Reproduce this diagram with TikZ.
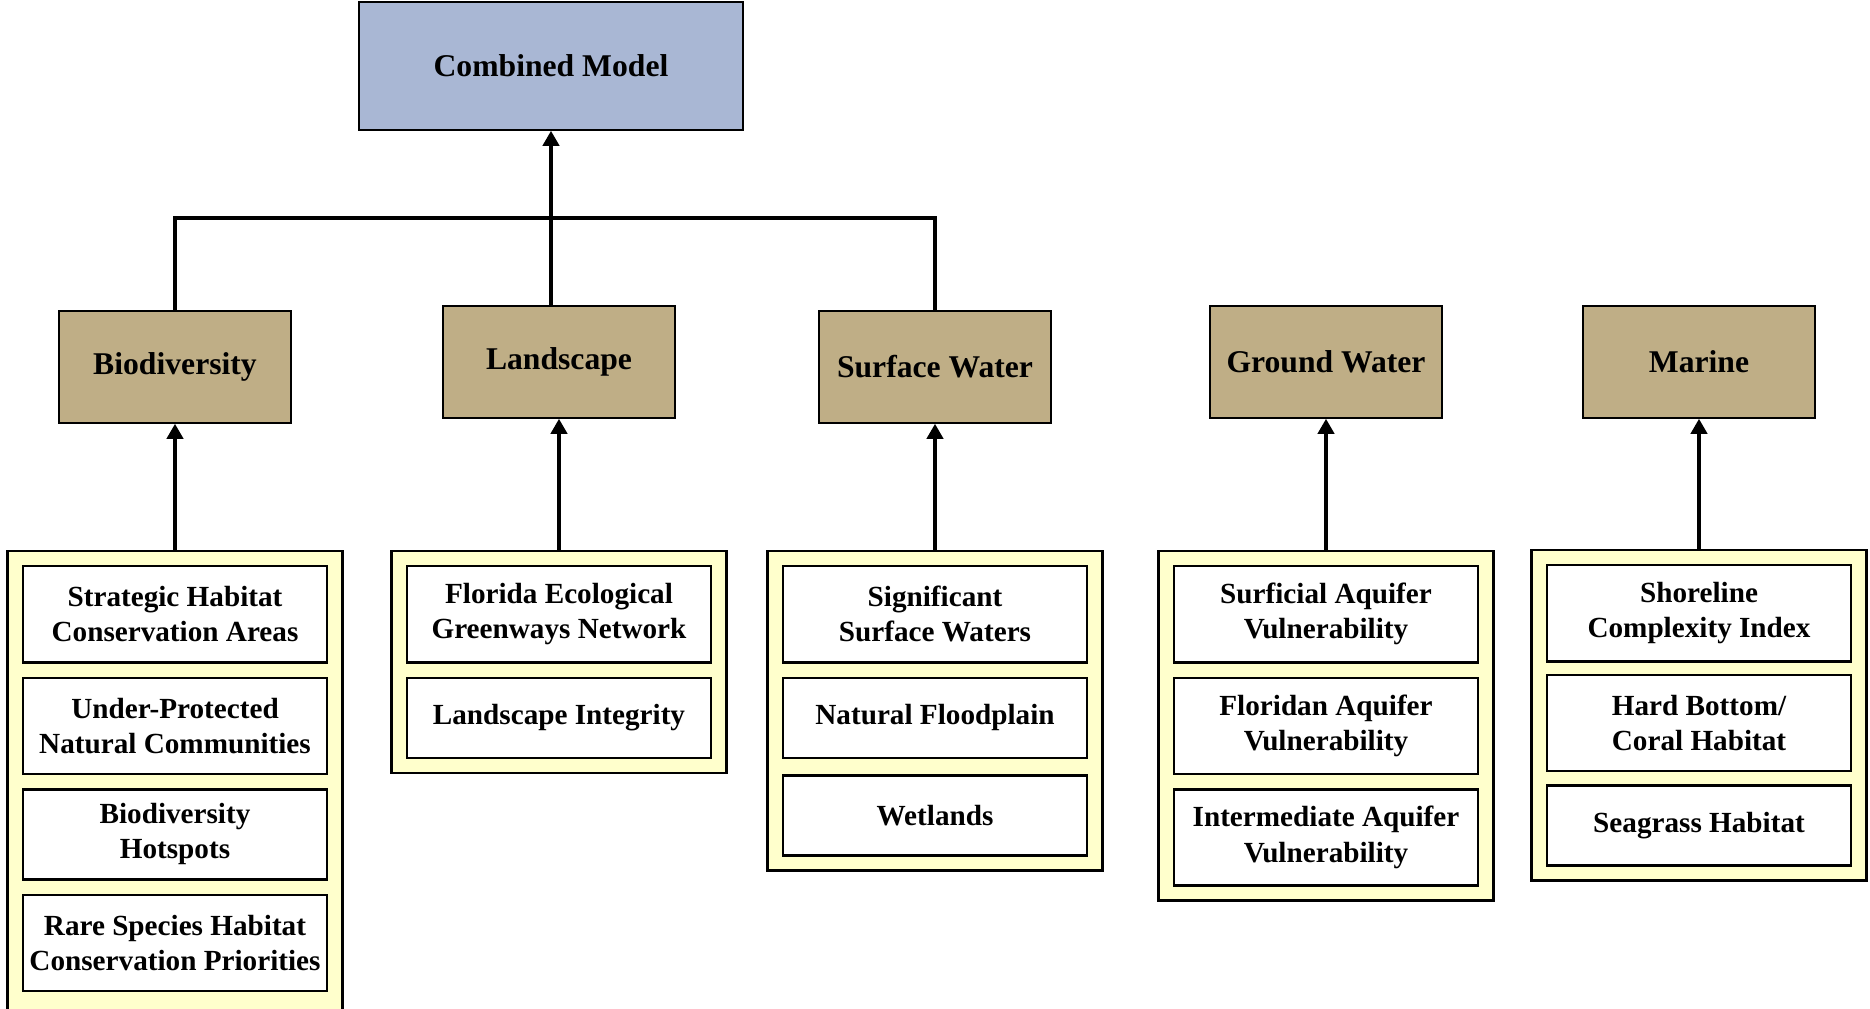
\documentclass[tikz,border=0pt]{standalone}
\usepackage{fontspec}
\setmainfont{Liberation Serif}
\usepackage{xcolor}
\usetikzlibrary{arrows.meta, positioning, fit, backgrounds}

\definecolor{modelblue}{HTML}{A9B7D4}
\definecolor{layertan}{HTML}{BFAE86}
\definecolor{groupyellow}{HTML}{FFFFCC}

\begin{document}
\begin{tikzpicture}[x=0.01cm, y=-0.01cm, node distance=0.13cm]
\tikzstyle{model} = [rectangle, minimum width=3.84cm, minimum height=1.28cm, text centered, draw=black, fill=modelblue, font=\fontsize{9}{11}\selectfont\bfseries]
\tikzstyle{layer} = [rectangle, minimum width=2.32cm, minimum height=1.12cm, text centered, draw=black, fill=layertan, font=\fontsize{9}{11}\selectfont\bfseries]
\tikzstyle{dataset} = [rectangle, minimum width=3.04cm, minimum height=0.96cm, inner sep=1pt, align=center, draw=black, line width=0.7pt, fill=white, font=\fontsize{8.3}{10}\selectfont\bfseries]
\tikzstyle{single} = [minimum height=0.8cm]
\tikzstyle{group} = [rectangle, draw=black, line width=0.7pt, fill=groupyellow, inner sep=0.14cm]
\tikzstyle{link} = [line width=1.3pt]
\tikzstyle{arrow} = [line width=1.3pt, -{Triangle[length=0.15cm, width=0.16cm]}]

\useasboundingbox (0,0) rectangle (1870,1008);

% top model
\node (comb) [model] at (551,66) {Combined Model};

% layers
\node (bio) [layer] at (175,367) {Biodiversity};
\node (land) [layer] at (559,362) {Landscape};
\node (surf) [layer] at (935,367) {Surface Water};
\node (ground) [layer] at (1326,362) {Ground Water};
\node (marine) [layer] at (1699,362) {Marine};

% data sets
\node (bio1) [dataset, anchor=north] at (175,565) {Strategic Habitat\\Conservation Areas};
\node (bio2) [dataset, below=of bio1] {Under-Protected\\Natural Communities};
\node (bio3) [dataset, below=of bio2, minimum height=0.9cm] {Biodiversity\\Hotspots};
\node (bio4) [dataset, below=of bio3] {Rare Species Habitat\\Conservation Priorities};
\coordinate (biobase) at (175,1012);

\node (land1) [dataset, anchor=north] at (559,565) {Florida Ecological\\Greenways Network};
\node (land2) [dataset, single, below=of land1] {Landscape Integrity};

\node (surf1) [dataset, anchor=north] at (935,565) {Significant\\Surface Waters};
\node (surf2) [dataset, single, below=of surf1] {Natural Floodplain};
\node (surf3) [dataset, single, below=0.15cm of surf2] {Wetlands};

\node (ground1) [dataset, anchor=north] at (1326,565) {Surficial Aquifer\\Vulnerability};
\node (ground2) [dataset, below=of ground1] {Floridan Aquifer\\Vulnerability};
\node (ground3) [dataset, below=of ground2] {Intermediate Aquifer\\Vulnerability};

\node (marine1) [dataset, anchor=north] at (1699,564) {Shoreline\\Complexity Index};
\node (marine2) [dataset, below=0.11cm of marine1] {Hard Bottom/\\Coral Habitat};
\node (marine3) [dataset, single, below=0.12cm of marine2] {Seagrass Habitat};

\begin{scope}[on background layer]
\node (biogroup) [group, fit=(bio1)(bio4)(biobase)] {};
\node (landgroup) [group, fit=(land1)(land2)] {};
\node (surfgroup) [group, fit=(surf1)(surf3)] {};
\node (groundgroup) [group, fit=(ground1)(ground3)] {};
\node (marinegroup) [group, fit=(marine1)(marine3)] {};
\end{scope}

% connectors
\coordinate (hub) at (551,218);
\draw [link] (bio.north) |- (hub) -| (surf.north);
\draw [arrow] (land.north -| comb.south) -- (comb.south);

\draw [arrow] (biogroup.north) -- (bio.south);
\draw [arrow] (landgroup.north) -- (land.south);
\draw [arrow] (surfgroup.north) -- (surf.south);
\draw [arrow] (groundgroup.north) -- (ground.south);
\draw [arrow] (marinegroup.north) -- (marine.south);
\end{tikzpicture}
\end{document}
